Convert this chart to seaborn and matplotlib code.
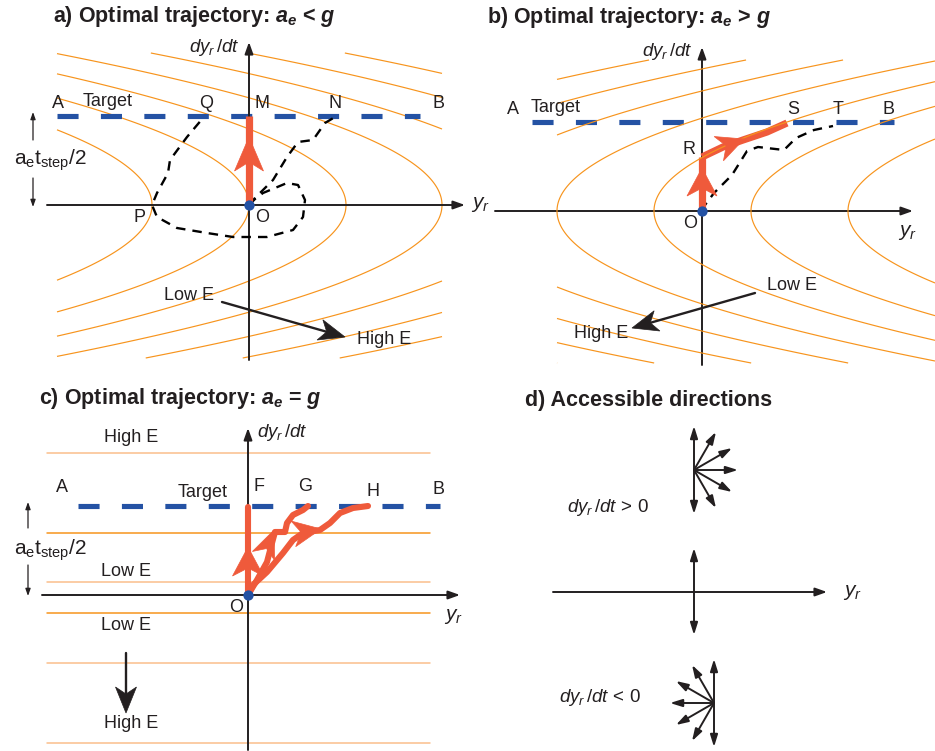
import numpy as np
import matplotlib
matplotlib.use("Agg")
import matplotlib.pyplot as plt
from matplotlib.patches import Polygon
import seaborn as sns

W, H = 935, 751

# ---- values: pixel units, origin at O, y up ----
K_CURV = 0.0168        # curvature of the energy contours (x = level -/+ K v^2)
TARGET_V = 89          # height of the target line A-B

# a) a_e < g
A_LEVELS = [-97, 0, 97, 193, 290, 387, 484]
A_BOX = [-192, 193, -153, 152]
A_TARGET_X = [-192, 171]
A_LOOP = [(0, 0), (6, 6), (14, 12), (38, 22), (49, 20), (56, 5), (54, -12), (44, -25),
          (18, -32), (-16, -32), (-42, -28), (-72, -23), (-92, -12), (-97, 0), (-92, 12),
          (-81, 32), (-79, 45), (-62, 68), (-46, 87)]
A_TO_N = [(0, 0), (6, 7), (24, 25), (38, 48), (49, 63), (64, 65), (76, 82), (86, 88)]
A_RED = [(0, 0), (0, 89)]
A_LABELS = ['A', 'Target', 'Q', 'M', 'N', 'B', 'P', 'O']
A_LABEL_XY = [(-191, 102), (-141, 103), (-43, 102), (13, 102), (86, 102), (189, 102),
              (-110, -13), (13, -13)]
A_E_ARROW = [(-27, -97), (96, -132)]
A_E_TEXT_XY = [(-60, -90), (135, -135)]

# b) a_e > g
B_LEVELS = [-533, -436, -339, -242, -145, -48, 49, 146]
B_BOX = [-145, 233, -152, 151]
B_TARGET_X = [-170, 192]
B_DASHED = [(0, 0), (3, 6), (12, 18), (30, 36), (45, 60), (56, 64), (82, 61), (94, 73),
            (112, 81), (131, 85)]
B_RED_UP = [(0, 0), (0, 54)]
B_RED_CURVE = [(0, 54), (21, 64), (41, 71), (65, 79), (85, 88)]
B_LABELS = ['A', 'Target', 'S', 'T', 'B', 'R', 'O']
B_LABEL_XY = [(-189, 102), (-146, 103), (91, 102), (136, 101), (187, 102), (-13, 61),
              (-12, -12)]
B_E_ARROW = [(53, -82), (-70, -117)]
B_E_TEXT_XY = [(90, -75), (-101, -123)]

# c) a_e = g
C_LINES_V = [142, 62, 13, -18, -68, -148]
C_LINES_PALE = [True, False, True, False, True, True]
C_LINES_X = [-201, 182]
C_TARGET_X = [-170, 192]
C_RED_F = [(0, 0), (0, 88)]
C_RED_G = [(0, 0), (9, 15), (19, 33), (24, 52), (27, 63), (37, 63), (39, 72), (45, 80),
           (55, 85), (60, 89)]
C_RED_H = [(0, 0), (5, 10), (19, 23), (35, 42), (45, 55), (55, 62), (72, 65), (82, 72),
           (92, 82), (105, 87), (120, 89)]
C_LABELS = ['A', 'Target', 'F', 'G', 'H', 'B', 'O']
C_LABEL_XY = [(-186, 107), (-45, 102), (11, 108), (57, 108), (125, 103), (190, 105),
              (-12, -12)]
C_E_TEXT = ['High E', 'Low E', 'Low E', 'High E']
C_E_TEXT_XY = [(-117, 157), (-122, 24), (-122, -31), (-117, -129)]
C_E_ARROW = [(-122, -58), (-122, -118)]

# d) accessible directions
D_UP_CENTER = (0, 122)
D_UP_ANGLES = [90, 60, 30, 0, -30, -60, -90]
D_DOWN_CENTER = (20, -111)
D_DOWN_ANGLES = [90, 120, 150, 180, 210, 240, 270]
D_FAN_LEN = 44

TITLES = ["a) Optimal trajectory: $\\mathbf{a_e}$ < $\\mathbf{g}$",
          "b) Optimal trajectory: $\\mathbf{a_e}$ > $\\mathbf{g}$",
          "c) Optimal trajectory: $\\mathbf{a_e}$ = $\\mathbf{g}$",
          "d) Accessible directions"]

INK = '#231f20'
ORANGE = '#f7941d'
PALE = '#fbbf8c'
BLUE = '#2452a4'
RED = '#ef5a3b'

sns.set_theme(style='white')
plt.rcParams['font.family'] = ['Liberation Sans', 'DejaVu Sans']
plt.rcParams['mathtext.fontset'] = 'custom'
plt.rcParams['mathtext.rm'] = 'Liberation Sans'
plt.rcParams['mathtext.it'] = 'Liberation Sans:italic'
plt.rcParams['mathtext.bf'] = 'Liberation Sans:bold:italic'
plt.rcParams['contour.negative_linestyle'] = 'solid'

fig = plt.figure(figsize=(W / 100, H / 100), dpi=100)
LIMS = {}


def panel(box, origin):
    l, t, r, b = box
    ox, oy = origin
    ax = fig.add_axes([l / W, 1 - b / H, (r - l) / W, (b - t) / H])
    ax.set_axis_off()
    LIMS[ax] = ((l - ox, r - ox), (oy - b, oy - t))
    return ax


def arrow(ax, start, end, lw=1.4, ms=10, hw=0.25, hl=0.7, color=INK, z=3):
    ax.annotate('', xy=end, xytext=start, zorder=z,
                arrowprops=dict(arrowstyle=f'-|>,head_length={hl},head_width={hw}',
                                lw=lw, color=color, shrinkA=0, shrinkB=0,
                                mutation_scale=ms))


def head(ax, tip, ang, length, width, notch, color, z=6):
    a = np.deg2rad(ang)
    d = np.array([np.cos(a), np.sin(a)])
    n = np.array([-d[1], d[0]])
    tip = np.asarray(tip, float)
    base = tip - length * d
    pts = [tip, base + width / 2 * n, tip - (length - notch) * d, base - width / 2 * n]
    ax.add_patch(Polygon(pts, closed=True, fc=color, ec=color, lw=0.5, zorder=z))


def path(ax, pts, **kw):
    xs, ys = zip(*pts)
    sns.lineplot(x=list(xs), y=list(ys), sort=False, estimator=None, ax=ax, **kw)


def contours(ax, box, levels, sign, z=1):
    x0, x1, v0, v1 = box
    X, V = np.meshgrid(np.linspace(x0, x1, 600), np.linspace(v0, v1, 600))
    ax.contour(X, V, X + sign * K_CURV * V ** 2, levels=sorted(levels),
               colors=ORANGE, linewidths=0.85, linestyles='solid', zorder=z)


def target(ax, xr):
    ax.plot(xr, [TARGET_V, TARGET_V], color=BLUE, lw=3.7, dashes=(4.1, 4.35),
            solid_capstyle='butt', dash_capstyle='butt', zorder=2)


def axes_cross(ax, xr, yr):
    arrow(ax, (xr[0], 0), (xr[1], 0), z=3)
    arrow(ax, (0, yr[0]), (0, yr[1]), z=3)


def labels(ax, names, xy, size=13):
    for s, (x, y) in zip(names, xy):
        ax.text(x, y, s, ha='center', va='center', fontsize=size, color=INK, zorder=8)


def energy_arrow(ax, pts):
    (x0, y0), (x1, y1) = pts
    ang = np.degrees(np.arctan2(y1 - y0, x1 - x0))
    ax.plot([x0, x1 - 10 * np.cos(np.radians(ang))], [y0, y1 - 10 * np.sin(np.radians(ang))],
            color=INK, lw=1.7, zorder=6)
    head(ax, (x1, y1), ang, 26, 21, 7, INK, z=6)


def step_marker(ax, x, top, gap_top, gap_bot, bottom, text_xy):
    arrow(ax, (x, gap_top), (x, top), lw=0.9, ms=6)
    arrow(ax, (x, gap_bot), (x, bottom), lw=0.9, ms=6)
    ax.text(*text_xy, '$\\mathrm{a_e t_{step}/2}$', ha='center', va='center',
            fontsize=15, color=INK)


def dy_label(ax, xy, ha, extra=''):
    ax.text(*xy, '$dy_r\\,/dt' + extra + '$', ha=ha, va='center', fontsize=13.5, color=INK)


TITLE_KW = dict(fontsize=15.5, fontweight='bold', color=INK, va='baseline')

# ---------------- a) ----------------
ax = panel((0, 0, 470, 375), (249, 205))
ax.text(-196, 183, TITLES[0], **TITLE_KW)
contours(ax, A_BOX, A_LEVELS, +1)
target(ax, A_TARGET_X)
axes_cross(ax, (-202, 216), (-155, 163))
dy_label(ax, (-9, 158), 'right')
path(ax, A_LOOP, color='black', lw=1.7, linestyle=(0, (4, 3)), zorder=4)
path(ax, A_TO_N, color='black', lw=1.7, linestyle=(0, (4, 3)), zorder=4)
path(ax, A_RED, color=RED, lw=5.2, zorder=5, solid_capstyle='butt')
head(ax, (0, 68), 90, 34, 29, 9, RED)
labels(ax, A_LABELS, A_LABEL_XY)
energy_arrow(ax, A_E_ARROW)
labels(ax, ['Low E', 'High E'], A_E_TEXT_XY)
step_marker(ax, -216, 93, 65, 27, -2, (-199, 45))
ax.scatter([0], [0], s=55, color=BLUE, zorder=9, linewidths=0)

# ---------------- b) ----------------
ax = panel((470, 0, 935, 375), (702, 211))
ax.text(-215, 188, TITLES[1], **TITLE_KW)
contours(ax, B_BOX, B_LEVELS, -1, z=5.5)
target(ax, B_TARGET_X)
axes_cross(ax, (-207, 211), (-154, 164))
dy_label(ax, (-9, 159), 'right')
path(ax, B_DASHED, color='black', lw=1.7, linestyle=(0, (4, 3)), zorder=4)
path(ax, B_RED_UP, color=RED, lw=5.2, zorder=5, solid_capstyle='butt')
path(ax, B_RED_CURVE, color=RED, lw=5.2, zorder=5, solid_capstyle='butt')
head(ax, (0, 43), 90, 28, 30, 8, RED)
head(ax, (42, 72), 21, 27, 26, 8, RED)
labels(ax, B_LABELS, B_LABEL_XY)
ax.text(-222, 6, '$y_r$', ha='center', va='center', fontsize=15, color=INK)
ax.text(205, -22, '$y_r$', ha='center', va='center', fontsize=15, color=INK)
energy_arrow(ax, B_E_ARROW)
labels(ax, ['Low E', 'High E'], B_E_TEXT_XY)
ax.scatter([0], [0], s=55, color=BLUE, zorder=9, linewidths=0)

# ---------------- c) ----------------
ax = panel((0, 375, 470, 751), (248, 595))
ax.text(-209, 191, TITLES[2], **TITLE_KW)
for v, pale in zip(C_LINES_V, C_LINES_PALE):
    ax.plot(C_LINES_X, [v, v], color=PALE if pale else ORANGE, lw=1.1, zorder=1)
target(ax, C_TARGET_X)
axes_cross(ax, (-206, 212), (-155, 167))
dy_label(ax, (9, 162), 'left')
for pts in (C_RED_F, C_RED_G, C_RED_H):
    path(ax, pts, color=RED, lw=4.4, zorder=5, solid_joinstyle='round')
head(ax, (0, 48), 90, 29, 31, 8, RED)
head(ax, (26, 65), 68, 28, 24, 8, RED)
head(ax, (73, 66), 10, 28, 26, 8, RED)
labels(ax, C_LABELS, C_LABEL_XY)
ax.text(205, -22, '$y_r$', ha='center', va='center', fontsize=15, color=INK)
labels(ax, C_E_TEXT, C_E_TEXT_XY)
energy_arrow(ax, C_E_ARROW)
step_marker(ax, -220, 93, 67, 30, -1, (-198, 45))
ax.scatter([0], [0], s=55, color=BLUE, zorder=9, linewidths=0)

# ---------------- d) ----------------
ax = panel((470, 375, 935, 751), (694, 592))
ax.text(-169, 186, TITLES[3], **TITLE_KW)
for center, angles in ((D_UP_CENTER, D_UP_ANGLES), (D_DOWN_CENTER, D_DOWN_ANGLES)):
    cx, cy = center
    for a in angles:
        r = np.radians(a)
        arrow(ax, (cx, cy), (cx + D_FAN_LEN * np.cos(r), cy + D_FAN_LEN * np.sin(r)),
              ms=8, hw=0.28, hl=0.9)
arrow(ax, (-141, 0), (133, 0))
arrow(ax, (0, 0), (0, 44), ms=8, hw=0.28, hl=0.9)
arrow(ax, (0, 0), (0, -43), ms=8, hw=0.28, hl=0.9)
ax.text(158, -1, '$y_r$', ha='center', va='center', fontsize=15, color=INK)
dy_label(ax, (-86, 84), 'center', '\\,>\\,\\mathit{0}')
dy_label(ax, (-94, -106), 'center', '\\,<\\,\\mathit{0}')

for a, (xl, yl) in LIMS.items():
    a.set_xlim(*xl)
    a.set_ylim(*yl)

fig.savefig('out.png', dpi=100)
